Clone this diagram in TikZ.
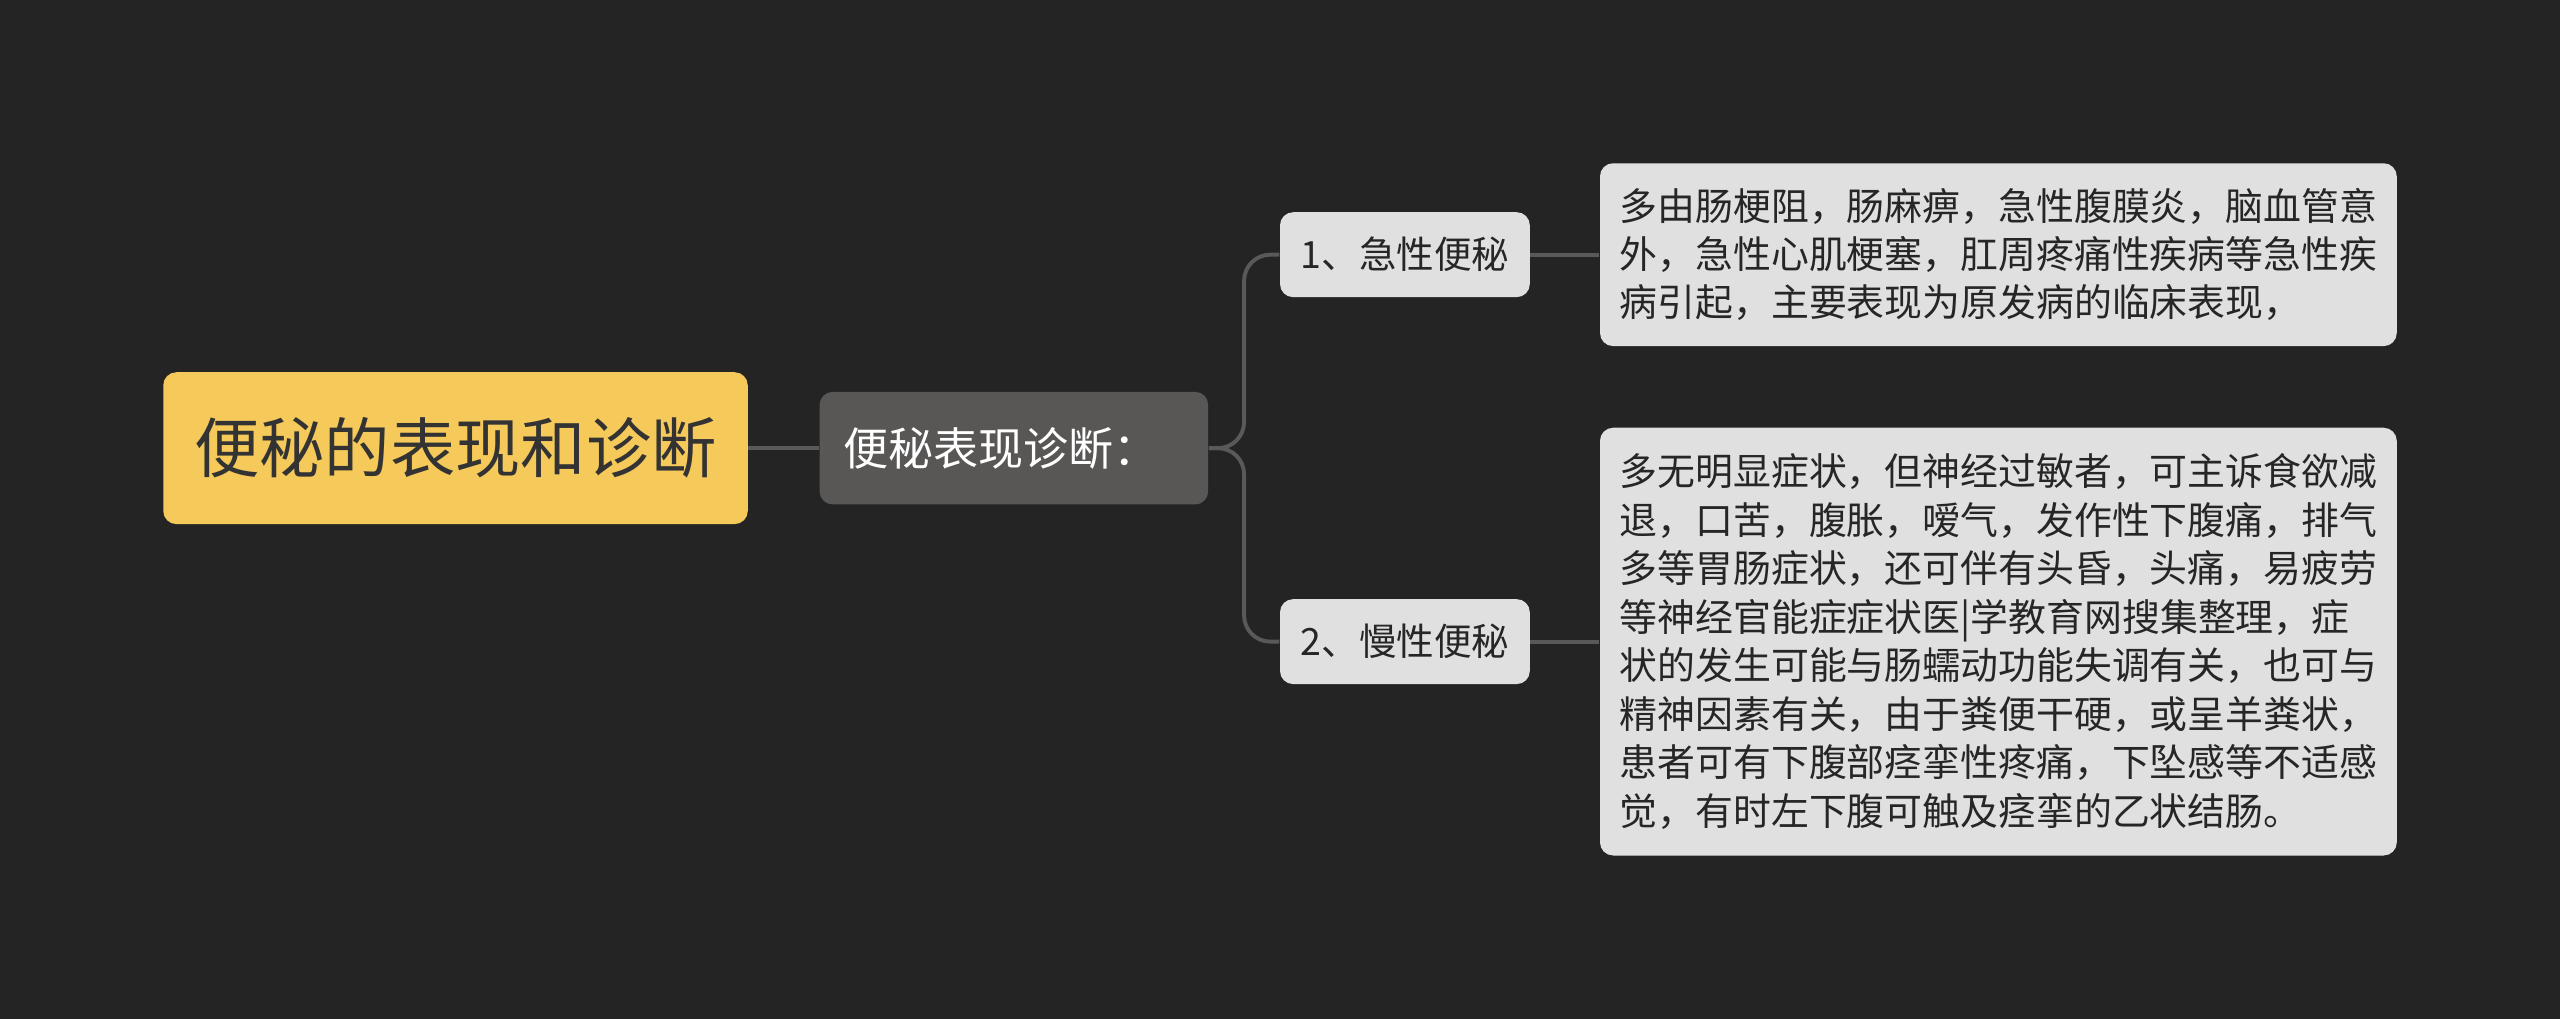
\documentclass[tikz,border=0pt]{standalone}
\usepackage{fontspec}
\setmainfont{Noto Sans CJK SC}
\begin{document}
\begin{tikzpicture}[x=0.5pt,y=-0.5pt,
  box/.style={rounded corners=4pt,inner sep=0pt,align=left},
  conn/.style={draw=gray!70!black,line width=1.2pt}]
\definecolor{bg}{HTML}{242424}
\definecolor{rootc}{HTML}{F5C95A}
\definecolor{midc}{HTML}{595755}
\definecolor{leafc}{HTML}{E0E0E0}
\fill[bg] (0,0) rectangle (1568,624);
\useasboundingbox (0,0) rectangle (1568,624);
\node[box,fill=rootc,minimum width=179pt,minimum height=46.5pt,font=\fontsize{20}{24}\selectfont,text=black!80] (root) at (279,274.5) {便秘的表现和诊断};
\node[box,fill=midc,minimum width=119pt,minimum height=34.5pt,font=\fontsize{13.8}{16}\selectfont,text=white] (mid) at (621,274.5) {便秘表现诊断：\hspace*{8pt}};
\node[box,fill=leafc,minimum width=76.5pt,minimum height=26pt,font=\fontsize{11.5}{14}\selectfont,text=black!85] (n1) at (860.5,156) {1、急性便秘};
\node[box,fill=leafc,minimum width=76.5pt,minimum height=26pt,font=\fontsize{11.5}{14}\selectfont,text=black!85] (n2) at (860.5,393) {2、慢性便秘};
\node[box,fill=leafc,minimum width=244pt,minimum height=56pt,font=\fontsize{11.6}{14.7}\selectfont,text=black!85] (l1) at (1224,156) {多由肠梗阻，肠麻痹，急性腹膜炎，脑血管意\\外，急性心肌梗塞，肛周疼痛性疾病等急性疾\\病引起，主要表现为原发病的临床表现，};
\node[box,fill=leafc,minimum width=244pt,minimum height=131pt,font=\fontsize{11.6}{14.85}\selectfont,text=black!85] (l2) at (1224,393) {多无明显症状，但神经过敏者，可主诉食欲减\\退，口苦，腹胀，嗳气，发作性下腹痛，排气\\多等胃肠症状，还可伴有头昏，头痛，易疲劳\\等神经官能症症状医|学教育网搜集整理，症\\状的发生可能与肠蠕动功能失调有关，也可与\\精神因素有关，由于粪便干硬，或呈羊粪状，\\患者可有下腹部痉挛性疼痛，下坠感等不适感\\觉，有时左下腹可触及痉挛的乙状结肠。};
\draw[conn] (root.east) -- (mid.west);
\draw[conn,rounded corners=8pt] (mid.east) -- (762,274.5) |- (n1.west);
\draw[conn,rounded corners=8pt] (mid.east) -- (762,274.5) |- (n2.west);
\draw[conn] (n1.east) -- (l1.west);
\draw[conn] (n2.east) -- (l2.west);
\end{tikzpicture}
\end{document}
